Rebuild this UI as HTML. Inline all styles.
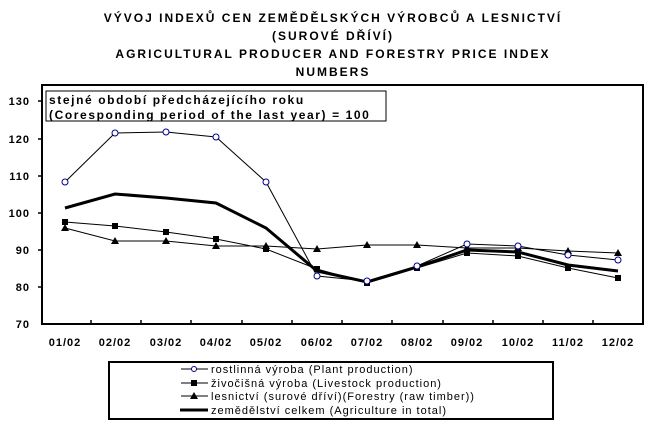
<!DOCTYPE html>
<html><head><meta charset="utf-8"><style>
body{margin:0;background:#fff}
svg{display:block;font-family:"Liberation Sans",sans-serif}
</style></head><body>
<svg width="666" height="429" viewBox="0 0 666 429" xmlns="http://www.w3.org/2000/svg">
<g font-weight="bold" font-size="12" text-anchor="middle" letter-spacing="2">
<text x="333" y="22">VÝVOJ INDEXŮ CEN ZEMĚDĚLSKÝCH VÝROBCŮ A LESNICTVÍ</text>
<text x="333" y="40">(SUROVÉ DŘÍVÍ)</text>
<text x="333" y="58">AGRICULTURAL PRODUCER AND FORESTRY PRICE INDEX</text>
<text x="333" y="76">NUMBERS</text>
</g>
<rect x="42" y="85" width="601" height="239" fill="none" stroke="#000" stroke-width="2"/>
<g stroke="#000" stroke-width="1.5">
<line x1="38" y1="101" x2="42" y2="101"/><line x1="38" y1="139" x2="42" y2="139"/><line x1="38" y1="176" x2="42" y2="176"/><line x1="38" y1="213" x2="42" y2="213"/><line x1="38" y1="250" x2="42" y2="250"/><line x1="38" y1="287" x2="42" y2="287"/>
<line x1="91" y1="320" x2="91" y2="324"/><line x1="141" y1="320" x2="141" y2="324"/><line x1="191" y1="320" x2="191" y2="324"/><line x1="242" y1="320" x2="242" y2="324"/><line x1="292" y1="320" x2="292" y2="324"/><line x1="342" y1="320" x2="342" y2="324"/><line x1="392" y1="320" x2="392" y2="324"/><line x1="443" y1="320" x2="443" y2="324"/><line x1="493" y1="320" x2="493" y2="324"/><line x1="543" y1="320" x2="543" y2="324"/><line x1="593" y1="320" x2="593" y2="324"/>
</g>
<g font-weight="bold" font-size="11" text-anchor="end" letter-spacing="1">
<text x="30" y="105">130</text><text x="30" y="143">120</text><text x="30" y="180">110</text><text x="30" y="217">100</text><text x="30" y="254">90</text><text x="30" y="291">80</text><text x="30" y="328">70</text>
</g>
<g font-weight="bold" font-size="11" text-anchor="middle" letter-spacing="1">
<text x="65" y="346">01/02</text><text x="115" y="346">02/02</text><text x="166" y="346">03/02</text><text x="216" y="346">04/02</text><text x="266" y="346">05/02</text><text x="317" y="346">06/02</text><text x="367" y="346">07/02</text><text x="417" y="346">08/02</text><text x="467" y="346">09/02</text><text x="518" y="346">10/02</text><text x="568" y="346">11/02</text><text x="618" y="346">12/02</text>
</g>
<rect x="46" y="91" width="340" height="30" fill="#fff" stroke="#000" stroke-width="1"/>
<g font-weight="bold" font-size="12" letter-spacing="1.6">
<text x="49" y="104">stejné období předcházejícího roku</text>
<text x="49" y="119">(Coresponding period of the last year) = 100</text>
</g>
<!-- forestry -->
<polyline fill="none" stroke="#000" stroke-width="1" points="65,228 115,241 166,241 216,246 266,246 317,249 367,245 417,245 467,248 518,248 568,251 618,253"/>
<g fill="#000">
<polygon points="65,224 61,231 69,231"/><polygon points="115,237 111,244 119,244"/><polygon points="166,237 162,244 170,244"/><polygon points="216,242 212,249 220,249"/><polygon points="266,242 262,249 270,249"/><polygon points="317,245 313,252 321,252"/><polygon points="367,241 363,248 371,248"/><polygon points="417,241 413,248 421,248"/><polygon points="467,244 463,251 471,251"/><polygon points="518,244 514,251 522,251"/><polygon points="568,247 564,254 572,254"/><polygon points="618,249 614,256 622,256"/>
</g>
<!-- livestock -->
<polyline fill="none" stroke="#000" stroke-width="1" points="65,222 115,226 166,232 216,239 266,249 317,269 367,283 417,268 467,253 518,256 568,268 618,278"/>
<g fill="#000">
<rect x="62" y="219" width="6" height="6"/><rect x="112" y="223" width="6" height="6"/><rect x="163" y="229" width="6" height="6"/><rect x="213" y="236" width="6" height="6"/><rect x="263" y="246" width="6" height="6"/><rect x="314" y="266" width="6" height="6"/><rect x="364" y="280" width="6" height="6"/><rect x="414" y="265" width="6" height="6"/><rect x="464" y="250" width="6" height="6"/><rect x="515" y="253" width="6" height="6"/><rect x="565" y="265" width="6" height="6"/><rect x="615" y="275" width="6" height="6"/>
</g>
<!-- total -->
<polyline fill="none" stroke="#000" stroke-width="3" points="65,208 115,194 166,198 216,203 266,228 317,271 367,282 417,267 467,250 518,252 568,265 618,271"/>
<!-- plant -->
<polyline fill="none" stroke="#000" stroke-width="1" points="65,182 115,133 166,132 216,137 266,182 317,276 367,281 417,266 467,244 518,246 568,255 618,260"/>
<g fill="#fff" stroke="#00008b" stroke-width="1">
<circle cx="65" cy="182" r="3"/><circle cx="115" cy="133" r="3"/><circle cx="166" cy="132" r="3"/><circle cx="216" cy="137" r="3"/><circle cx="266" cy="182" r="3"/><circle cx="317" cy="276" r="3"/><circle cx="367" cy="281" r="3"/><circle cx="417" cy="266" r="3"/><circle cx="467" cy="244" r="3"/><circle cx="518" cy="246" r="3"/><circle cx="568" cy="255" r="3"/><circle cx="618" cy="260" r="3"/>
</g>
<!-- legend -->
<rect x="109" y="362" width="444" height="57" fill="#fff" stroke="#000" stroke-width="2"/>
<line x1="181" y1="369" x2="208" y2="369" stroke="#000"/><circle cx="194" cy="369" r="2.5" fill="#fff" stroke="#00008b"/>
<line x1="181" y1="383" x2="208" y2="383" stroke="#000"/><rect x="191" y="380" width="6" height="6"/>
<line x1="181" y1="396" x2="208" y2="396" stroke="#000"/><polygon points="194,392 190,399 198,399"/>
<line x1="180" y1="410" x2="208" y2="410" stroke="#000" stroke-width="3"/>
<g font-size="11" letter-spacing="1">
<text x="211" y="373">rostlinná výroba (Plant production)</text>
<text x="211" y="387">živočišná výroba (Livestock production)</text>
<text x="211" y="400">lesnictví (surové dříví)(Forestry (raw timber))</text>
<text x="211" y="414">zemědělství celkem (Agriculture in total)</text>
</g>
</svg>
</body></html>
